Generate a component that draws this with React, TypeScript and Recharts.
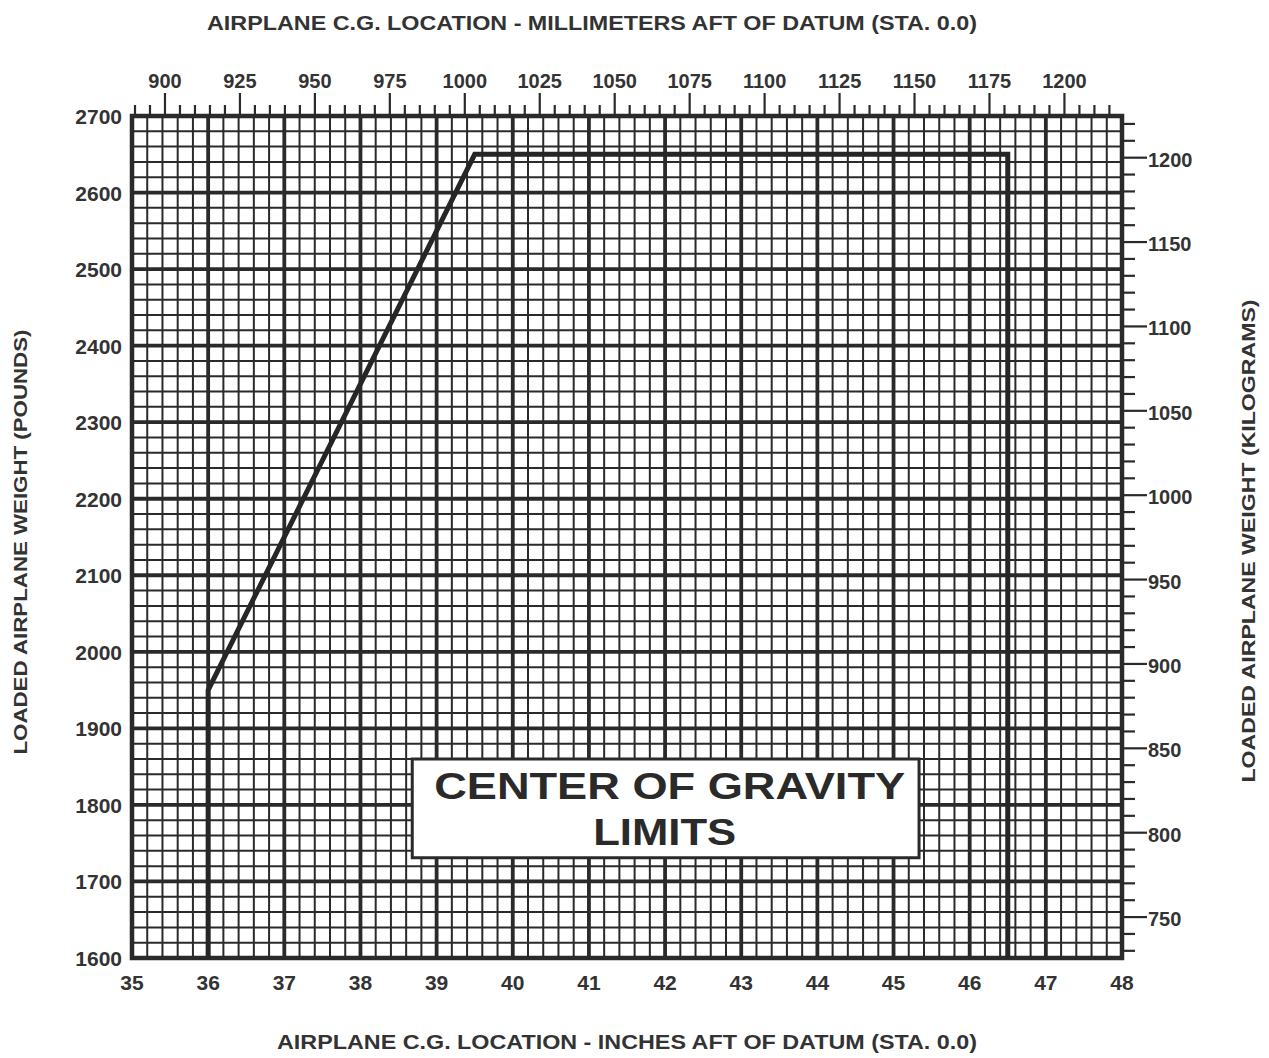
import React from "react";
import {
  ComposedChart,
  Line,
  XAxis,
  YAxis,
  ReferenceArea,
  CartesianGrid,
} from "recharts";

// ---- data ----
const inchTicks = [35, 36, 37, 38, 39, 40, 41, 42, 43, 44, 45, 46, 47, 48];
const poundTicks = [1600, 1700, 1800, 1900, 2000, 2100, 2200, 2300, 2400, 2500, 2600, 2700];
const mmLabels = [900, 925, 950, 975, 1000, 1025, 1050, 1075, 1100, 1125, 1150, 1175, 1200];
const kgLabels = [750, 800, 850, 900, 950, 1000, 1050, 1100, 1150, 1200];

// envelope (inches aft of datum, pounds)
const envelopeInches = [36, 36, 39.5, 46.5, 46.5];
const envelopePounds = [1600, 1950, 2650, 2650, 1600];

// annotation box (data coordinates)
const boxInches = [38.68, 45.335];
const boxPounds = [1731, 1860];
const boxLines = ["CENTER OF GRAVITY", "LIMITS"];

const MM_PER_IN = 25.4;
const KG_PER_LB = 0.45359237;

const envelope = envelopeInches.map((v, i) => ({ inch: v, mm: v * MM_PER_IN, lb: envelopePounds[i] }));

// minor grid: every 0.2 in and every 20 lb
const minorInches: number[] = [];
for (let i = 35 * 5; i <= 48 * 5; i++) minorInches.push(i / 5);
const minorPounds: number[] = [];
for (let p = 1600; p <= 2700; p += 20) minorPounds.push(p);
// top axis ticks every 5 mm, right axis ticks every 10 kg
const mmTicks: number[] = [];
for (let m = 890; m <= 1215; m += 5) mmTicks.push(m);
const kgTicks: number[] = [];
for (let k = 730; k <= 1220; k += 10) kgTicks.push(k);

const INK = "#2a2a2a";
const TXT = "#333";
const FONT = "'Liberation Sans', Arial, Helvetica, sans-serif";

const BottomTick = (props: any) => {
  const { x, y, payload } = props;
  return (
    <text x={x} y={y + 32} textAnchor="middle" fill={TXT} fontSize={21} fontWeight="bold" fontFamily={FONT}>
      {payload.value}
    </text>
  );
};

const LeftTick = (props: any) => {
  const { x, y, payload } = props;
  return (
    <text x={x - 10} y={y + 8} textAnchor="end" fill={TXT} fontSize={21} fontWeight="bold" fontFamily={FONT}>
      {payload.value}
    </text>
  );
};

const TopTick = (props: any) => {
  const { x, y, payload } = props;
  const major = mmLabels.includes(payload.value);
  return (
    <g>
      <line x1={x} x2={x} y1={y} y2={y - (major ? 23 : 11)} stroke={INK} strokeWidth={2.2} />
      {major && (
        <text x={x} y={y - 28} textAnchor="middle" fill={TXT} fontSize={20} fontWeight="bold" fontFamily={FONT}>
          {payload.value}
        </text>
      )}
    </g>
  );
};

const RightTick = (props: any) => {
  const { x, y, payload } = props;
  const major = kgLabels.includes(payload.value);
  return (
    <g>
      <line x1={x} x2={x + (major ? 25 : 13)} y1={y} y2={y} stroke={INK} strokeWidth={2.2} />
      {major && (
        <text x={x + 26} y={y + 9} textAnchor="start" fill={TXT} fontSize={20} fontWeight="bold" fontFamily={FONT}>
          {payload.value}
        </text>
      )}
    </g>
  );
};

const BoxLabel = (props: any) => {
  const vb = props.viewBox || {};
  const cx = vb.x + vb.width / 2;
  return (
    <g>
      <text x={cx + 4} y={vb.y + 40} textAnchor="middle" fill={INK} fontSize={37} fontWeight="bold" fontFamily={FONT}
        textLength={471} lengthAdjust="spacingAndGlyphs">
        {boxLines[0]}
      </text>
      <text x={cx - 1} y={vb.y + 86} textAnchor="middle" fill={INK} fontSize={37} fontWeight="bold" fontFamily={FONT}
        textLength={143} lengthAdjust="spacingAndGlyphs">
        {boxLines[1]}
      </text>
    </g>
  );
};

export default function App() {
  return (
    <div style={{ position: "absolute", left: 0, top: 0, width: 1269, height: 1058, background: "#fff" }}>
      <ComposedChart
        width={1269}
        height={1058}
        data={envelope}
        margin={{ top: 66, right: 87, bottom: 60, left: 72 }}
      >
        <XAxis
          xAxisId="gx"
          dataKey="inch"
          type="number"
          domain={[35, 48]}
          ticks={minorInches}
          interval={0}
          allowDataOverflow
          height={0}
          hide
        />
        <YAxis
          yAxisId="gy"
          type="number"
          domain={[1600, 2700]}
          ticks={minorPounds}
          interval={0}
          allowDataOverflow
          width={0}
          hide
        />
        <XAxis
          xAxisId="in"
          dataKey="inch"
          type="number"
          domain={[35, 48]}
          ticks={inchTicks}
          interval={0}
          allowDataOverflow
          axisLine={false}
          tickLine={false}
          tickSize={0}
          tickMargin={0}
          height={40}
          tick={<BottomTick />}
        />
        <XAxis
          xAxisId="mm"
          dataKey="mm"
          orientation="top"
          type="number"
          domain={[35 * MM_PER_IN, 48 * MM_PER_IN]}
          ticks={mmTicks}
          interval={0}
          allowDataOverflow
          axisLine={false}
          tickLine={false}
          tickSize={0}
          tickMargin={0}
          height={50}
          tick={<TopTick />}
        />
        <YAxis
          yAxisId="lb"
          type="number"
          domain={[1600, 2700]}
          ticks={poundTicks}
          interval={0}
          allowDataOverflow
          axisLine={false}
          tickLine={false}
          tickSize={0}
          tickMargin={0}
          width={60}
          tick={<LeftTick />}
        />
        <YAxis
          yAxisId="kg"
          orientation="right"
          type="number"
          domain={[1600 * KG_PER_LB, 2700 * KG_PER_LB]}
          ticks={kgTicks}
          interval={0}
          allowDataOverflow
          axisLine={false}
          tickLine={false}
          tickSize={0}
          tickMargin={0}
          width={60}
          tick={<RightTick />}
        />

        <CartesianGrid xAxisId="gx" yAxisId="gy" stroke={INK} strokeWidth={2} fill="#fff" />
        <CartesianGrid xAxisId="in" yAxisId="lb" stroke={INK} strokeWidth={3.8} fill="none" />

        <Line
          xAxisId="mm"
          yAxisId="lb"
          dataKey="lb"
          type="linear"
          stroke="none"
          dot={false}
          activeDot={false}
          legendType="none"
          isAnimationActive={false}
        />
        <Line
          xAxisId="in"
          yAxisId="lb"
          dataKey="lb"
          type="linear"
          stroke="#262626"
          strokeWidth={5}
          dot={false}
          activeDot={false}
          isAnimationActive={false}
          strokeLinejoin="miter"
        />

        <ReferenceArea
          xAxisId="in"
          yAxisId="lb"
          x1={boxInches[0]}
          x2={boxInches[1]}
          y1={boxPounds[0]}
          y2={boxPounds[1]}
          fill="#fff"
          fillOpacity={1}
          stroke={INK}
          strokeWidth={3}
          label={<BoxLabel />}
        />
        <ReferenceArea
          xAxisId="in"
          yAxisId="lb"
          x1={35}
          x2={48}
          y1={1600}
          y2={2700}
          fill="none"
          stroke={INK}
          strokeWidth={4.5}
        />
      </ComposedChart>

      <svg width={1269} height={1058} style={{ position: "absolute", left: 0, top: 0, pointerEvents: "none" }}>
        <text x={592} y={30} textAnchor="middle" fill={TXT} fontSize={20} fontWeight="bold" fontFamily={FONT}
          textLength={770} lengthAdjust="spacingAndGlyphs">
          AIRPLANE C.G. LOCATION - MILLIMETERS AFT OF DATUM (STA. 0.0)
        </text>
        <text x={627} y={1049} textAnchor="middle" fill={TXT} fontSize={20} fontWeight="bold" fontFamily={FONT}
          textLength={700} lengthAdjust="spacingAndGlyphs">
          AIRPLANE C.G. LOCATION - INCHES AFT OF DATUM (STA. 0.0)
        </text>
        <text x={0} y={0} transform="translate(27,542) rotate(-90)" textAnchor="middle" fill={TXT} fontSize={19}
          fontWeight="bold" fontFamily={FONT} textLength={425} lengthAdjust="spacingAndGlyphs">
          LOADED AIRPLANE WEIGHT (POUNDS)
        </text>
        <text x={0} y={0} transform="translate(1255,541) rotate(-90)" textAnchor="middle" fill={TXT} fontSize={19}
          fontWeight="bold" fontFamily={FONT} textLength={483} lengthAdjust="spacingAndGlyphs">
          LOADED AIRPLANE WEIGHT (KILOGRAMS)
        </text>
      </svg>
    </div>
  );
}
